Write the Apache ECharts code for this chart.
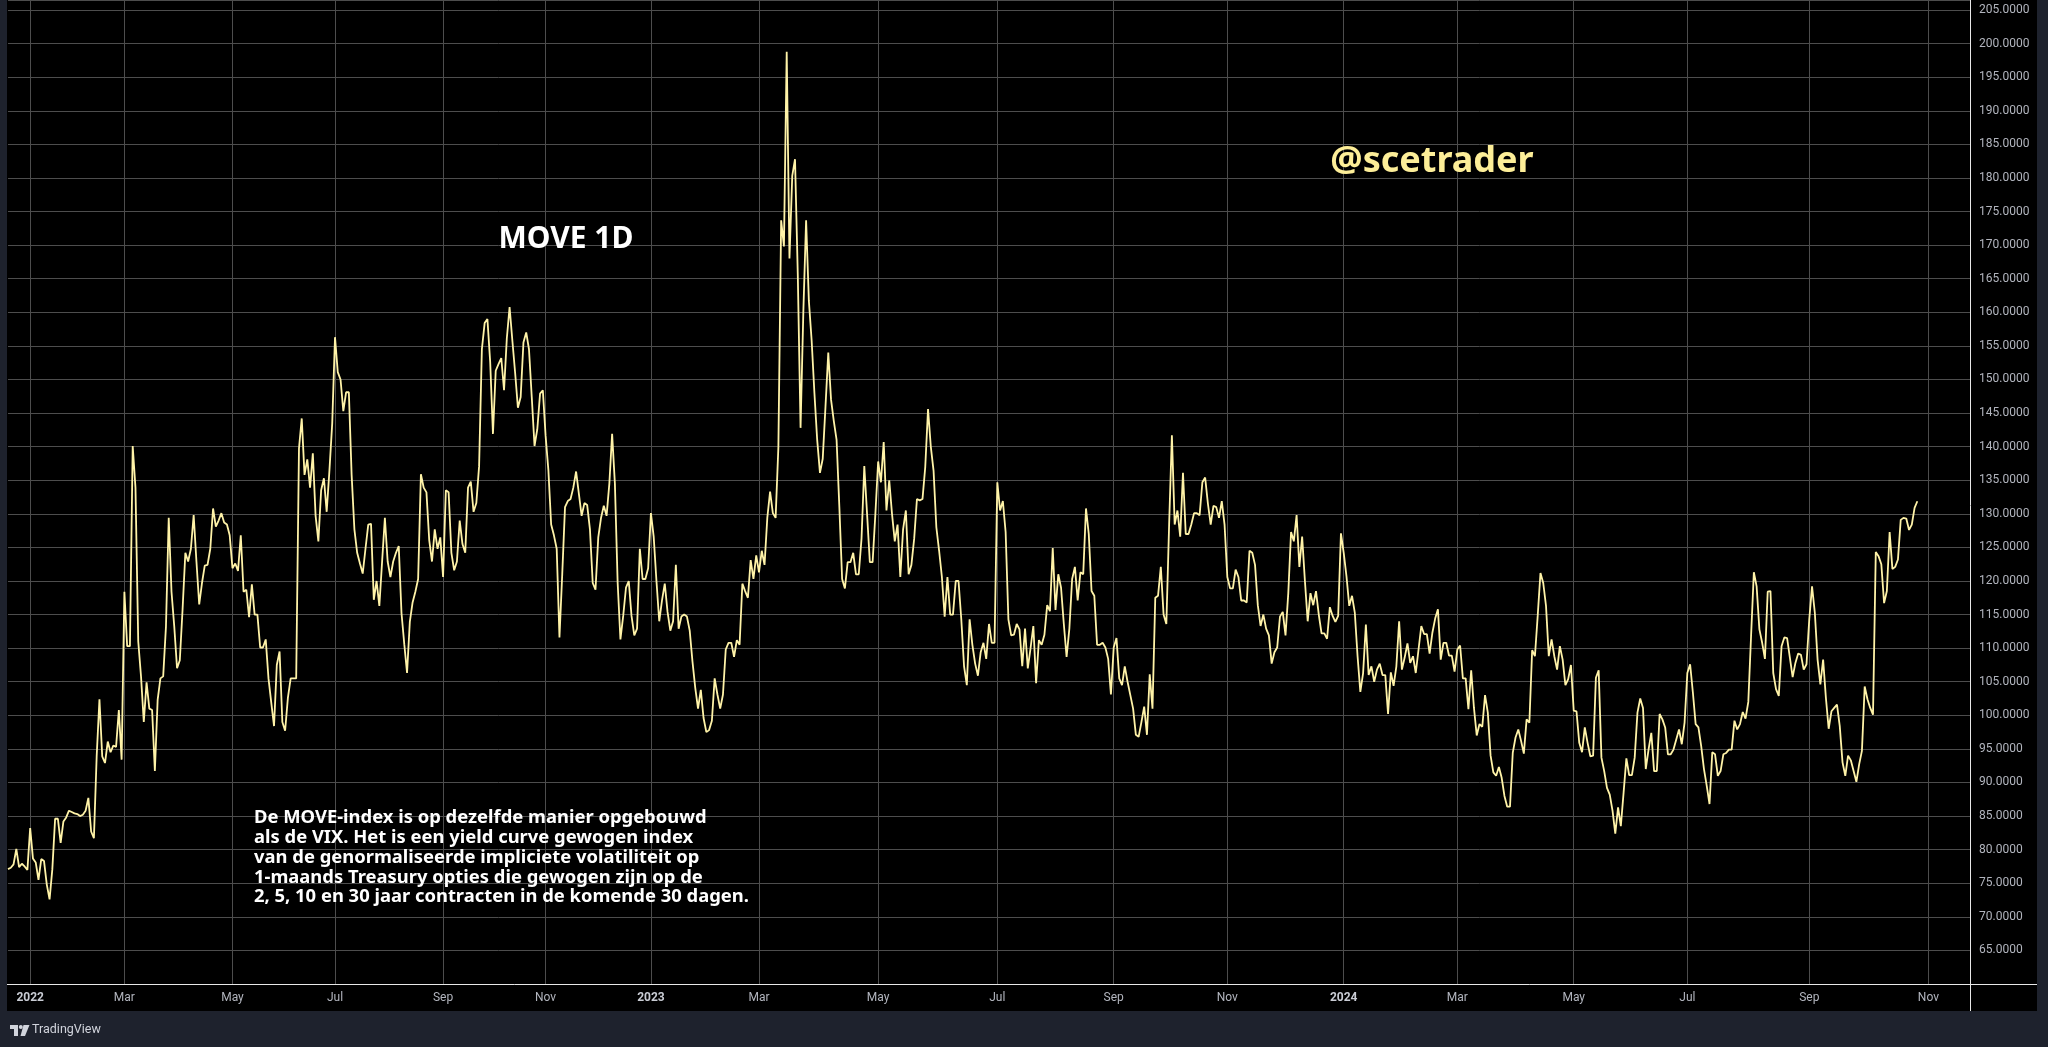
<!DOCTYPE html>
<html>
<head>
<meta charset="utf-8">
<script src="https://cdn.jsdelivr.net/npm/echarts@6/dist/echarts.min.js"></script>
<style>
html,body{margin:0;padding:0;background:#1e222d;}
#chart{width:2048px;height:1047px;}
</style>
</head>
<body>
<div id="chart"></div>
<script>
// MOVE index, one value per bar slot
const move2022 = [
77.1,77.3,77.8,80.1,77.4,77.9,77.5,77.0,83.2,78.7,
78.1,75.5,78.6,78.3,74.8,72.6,77.1,84.6,84.6,81.0,
84.2,84.8,85.8,85.6,85.4,85.3,85.0,85.2,85.8,87.7,
82.7,81.7,93.9,102.4,93.9,92.9,96.1,94.5,95.5,95.3,
100.8,93.4,118.4,110.3,110.3,140.1,133.9,111.0,105.8,99.0,
104.9,101.0,100.8,91.7,102.3,105.5,105.8,113.2,129.4,118.4,
113.2,107.0,108.2,115.8,124.2,122.9,124.8,129.8,122.9,116.5,
119.7,122.3,122.4,124.8,130.8,128.1,129.0,130.1,128.7,128.4,
126.8,121.9,122.6,121.5,126.8,118.4,118.7,114.6,119.5,115.0,
115.0,110.1,110.1,111.3,105.5,101.9,98.4,107.5,109.5,99.0,
97.7,102.6,105.5,105.5,105.5,139.7,144.2,135.8,138.1,133.9,
139.0,129.7,125.9,133.5,135.3,130.3,136.5,143.5,156.3,151.1,
150.0,145.3,148.1,148.1,135.8,127.7,124.2,122.6,121.1,124.8,
128.4,128.5,117.2,120.0,116.3,122.9,129.4,122.9,120.6,122.9,
124.2,125.2,115.2,110.6,106.3,113.9,116.8,118.4,120.3,135.9,
133.9,133.2,126.1,122.9,127.7,124.8,126.5,120.6,133.5,133.2,
124.2,121.6,122.9,129.0,125.5,124.2,133.9,134.8,130.3,131.6,
137.1,154.5,158.4,159.0,152.6,141.9,151.3,152.3,153.2,148.4,
156.1,160.8,155.8,151.0,145.8,147.4,155.5,157.0,154.5,147.4,
140.1,142.6,147.9,148.4,141.6,136.5,128.4,126.8,124.8,111.6,
121.0,131.0,131.9,132.2,133.9,136.3,133.0,129.7,131.6,131.3,
127.7,119.7,118.7,126.5,129.4,131.2,129.7,134.5,141.9,134.5,
119.7,111.3,114.8,119.0,120.0,114.8,111.9,112.9,124.8,120.3,
120.3,121.9
];
const move2023 = [
130.1,126.6,120.0,114.0,117.1,119.6,115.4,112.6,114.0,122.4,
112.9,114.7,115.0,114.7,112.6,108.0,104.1,101.0,103.8,99.6,
97.5,97.8,99.2,105.5,103.1,101.0,103.1,109.8,110.8,110.8,
108.7,111.2,110.5,119.6,118.5,117.5,123.1,120.3,123.8,121.3,
124.5,122.4,129.4,133.3,130.1,129.4,140.0,173.7,169.8,198.8,
168.0,180.3,182.8,165.6,142.8,160.0,173.7,161.7,155.8,148.0,
141.0,136.1,138.2,146.0,154.0,147.0,143.8,141.0,131.0,120.3,
118.9,122.8,122.8,124.2,121.0,121.0,126.3,137.1,130.0,122.8,
122.8,130.0,137.8,134.7,140.7,130.5,135.0,130.0,125.9,128.4,
120.6,127.7,130.5,121.0,122.4,126.3,132.2,132.0,132.2,137.0,
145.6,140.0,136.4,128.0,124.5,120.6,114.7,120.6,115.0,115.0,
120.0,120.0,114.3,107.3,104.5,114.3,110.5,107.7,105.9,109.4,
110.8,108.4,113.6,110.8,110.8,134.7,130.5,131.9,127.3,114.3,
111.9,112.0,113.6,112.8,107.3,112.9,107.0,110.0,113.3,104.8,
111.2,110.5,112.0,116.4,115.5,124.9,115.7,121.0,119.0,113.6,
108.7,112.9,120.3,122.1,117.1,121.3,121.0,130.8,127.0,118.5,
117.8,110.5,110.5,110.8,110.1,108.4,103.1,110.1,111.5,105.5,
104.5,107.3,105.0,103.0,101.0,97.1,96.8,99.0,101.3,97.1,
106.1,101.0,117.5,117.8,122.1,115.0,113.6,128.4,141.7,128.4,
130.5,126.6,136.1,127.0,127.0,128.4,130.1,130.1,129.8,134.7,
135.4,131.5,128.4,131.2,131.0,129.4,131.9,128.4,120.6,118.9,
118.9,121.7,120.6,117.1,117.1,116.8,124.5,124.2,122.4,116.4,
113.3,115.0,112.9,111.9,107.7,109.4,110.1,114.7,115.4,111.9,
118.2,127.3,125.9,129.8,122.1,126.6,120.0,114.0,118.2,116.4,
118.5,115.0,112.2,112.2,111.4,116.1,114.8,113.9,114.8,127.1
];
const move2024 = [
124.2,120.7,116.3,117.8,115.3,108.8,103.5,106.3,113.5,106.0,
107.3,105.0,106.8,107.7,106.0,106.0,100.2,106.4,104.4,107.3,
114.0,106.8,108.6,110.7,107.8,108.8,106.3,109.8,113.3,112.1,
112.1,109.2,112.3,114.4,115.8,108.3,110.8,110.8,108.9,108.9,
106.5,109.8,110.4,105.5,105.5,100.9,106.7,101.1,97.0,98.7,
98.3,103.0,100.4,94.0,91.5,91.0,92.3,90.7,88.0,86.4,
86.4,94.4,96.7,97.9,96.2,94.3,99.4,98.9,109.7,108.8,
114.8,121.2,119.7,116.3,108.8,111.3,108.8,106.8,110.3,108.3,
104.5,105.4,107.5,100.7,100.6,95.9,94.5,98.2,95.9,93.9,
94.0,105.6,106.7,93.7,91.7,89.2,88.2,85.8,82.4,86.3,
83.5,88.5,93.6,91.1,91.1,93.7,100.4,102.5,101.1,92.0,
94.9,97.4,91.7,91.7,100.2,99.4,98.2,94.2,94.2,94.9,
96.4,97.9,95.7,98.9,106.3,107.6,103.4,98.7,98.2,95.4,
92.0,89.5,86.8,94.5,94.2,91.0,91.7,94.2,94.4,94.9,
94.9,99.2,97.9,98.7,100.5,99.5,102.0,111.8,121.3,119.2,
112.8,110.8,108.4,118.4,118.5,106.3,103.9,102.9,110.3,111.6,
111.5,108.6,105.7,107.8,109.2,109.0,106.8,107.6,114.3,119.2,
115.3,108.3,104.6,108.3,102.6,98.0,100.6,101.1,101.6,98.4,
93.0,91.0,94.0,93.3,91.7,90.1,92.7,94.7,104.3,102.4,
101.1,100.1,124.3,123.7,122.5,116.7,118.5,127.3,121.8,122.1,
123.2,129.1,129.4,129.3,127.6,128.4,130.9,131.872
];

// x-axis tick labels and the bar slot each one sits on
const tickLabels = ['2022','Mar','May','Jul','Sep','Nov','2023','Mar','May','Jul','Sep','Nov','2024','Mar','May','Jul','Sep','Nov'];
const tickBars   = [8, 42, 81, 118, 157, 194, 232, 271, 314, 357, 399, 440, 482, 523, 565, 606, 650, 693];
const yearLabels = ['2022','2023','2024'];
const totalSlots = 709;   // bar slots across the plot, incl. empty space on the right

const noteLines = [
  'De MOVE-index is op dezelfde manier opgebouwd',
  'als de VIX. Het is een yield curve gewogen index',
  'van de genormaliseerde impliciete volatiliteit op',
  '1-maands Treasury opties die gewogen zijn op de',
  '2, 5, 10 en 30 jaar contracten in de komende 30 dagen.'
];

const moveValues = [...move2022, ...move2023, ...move2024];
const categories = [];
for (let i = 0; i < totalSlots; i++) categories.push(String(i));
const tickMap = new Map();
tickBars.forEach((b, k) => tickMap.set(b, tickLabels[k]));
const lastValue = moveValues[moveValues.length - 1];

const GRID = '#4d4d4d';
const AXIS_TXT = '#b2b5be';
const LINE = '#fff3a8';

const chart = echarts.init(document.getElementById('chart'));
chart.setOption({
  backgroundColor: '#1e222d',
  animation: false,
  grid: { left: 8, right: 78, top: 0, bottom: 63, containLabel: false },
  xAxis: {
    type: 'category',
    data: categories,
    boundaryGap: false,
    axisLine: { show: false },
    axisTick: { show: false },
    axisLabel: {
      interval: (i) => tickMap.has(i),
      formatter: (v, i) => {
        const t = tickMap.get(Number(v));
        if (!t) return '';
        return yearLabels.includes(t) ? '{y|' + t + '}' : t;
      },
      color: AXIS_TXT,
      fontSize: 12,
      fontFamily: 'Roboto, sans-serif',
      margin: 8,
      rich: { y: { fontWeight: 'bold', color: '#c9ccd4', fontSize: 12, fontFamily: 'Roboto, sans-serif' } }
    },
    splitLine: { show: true, interval: (i) => tickMap.has(i), lineStyle: { color: GRID, width: 1 } }
  },
  yAxis: {
    type: 'value',
    position: 'right',
    min: 60,
    max: 206.5,
    interval: 5,
    axisLine: { show: false },
    axisTick: { show: false },
    axisLabel: {
      formatter: (v) => (v >= 65 && Math.abs(v % 5) < 1e-6) ? v.toFixed(4) : '',
      color: AXIS_TXT,
      fontSize: 12,
      fontFamily: 'Roboto, sans-serif',
      margin: 9,
      showMaxLabel: false
    },
    splitLine: { show: true, lineStyle: { color: GRID, width: 1 } }
  },
  series: [{
    type: 'line',
    data: moveValues,
    showSymbol: false,
    symbol: 'none',
    lineStyle: { color: LINE, width: 1.8 },
    silent: true,
    markLine: {
      silent: true,
      symbol: 'none',
      lineStyle: { opacity: 0 },
      data: [{ yAxis: lastValue }],
      label: {
        show: true,
        position: 'end',
        distance: 1,
        formatter: () => lastValue.toFixed(4),
        backgroundColor: '#fff5a5',
        color: '#131722',
        fontSize: 12,
        fontFamily: 'Roboto, sans-serif',
        lineHeight: 12,
        padding: [3, 5, 2, 8]
      }
    }
  }],
  graphic: [
    { type: 'rect', z: -100, silent: true, shape: { x: 7, y: 0, width: 2030, height: 1011 }, style: { fill: '#000000' } },
    { type: 'line', z: 100, silent: true, shape: { x1: 1970.5, y1: 0, x2: 1970.5, y2: 1011 }, style: { stroke: '#e8e8e8', lineWidth: 1 } },
    { type: 'line', z: 100, silent: true, shape: { x1: 7, y1: 984.5, x2: 2037, y2: 984.5 }, style: { stroke: '#e8e8e8', lineWidth: 1 } },
    { type: 'text', z: 100, silent: true, x: 566, y: 239,
      style: { text: 'MOVE 1D', fill: '#ffffff', font: 'bold 30px "Noto Sans", sans-serif', textAlign: 'center', textVerticalAlign: 'middle' } },
    { type: 'text', z: 100, silent: true, x: 1432, y: 162,
      style: { text: '@scetrader', fill: '#fdee98', font: 'bold 36px "Noto Sans", sans-serif', textAlign: 'center', textVerticalAlign: 'middle' } },
    { type: 'text', z: 100, silent: true, x: 254, y: 808,
      style: { text: noteLines.join('\n'), fill: '#ffffff', font: 'bold 18.4px "Noto Sans", sans-serif', lineHeight: 19.8, textAlign: 'left', textVerticalAlign: 'top' } },
    // TradingView logo
    { type: 'polygon', z: 100, silent: true, shape: { points: [[10,1025],[18,1025],[18,1036],[14,1036],[14,1029],[10,1029]] }, style: { fill: '#d1d4dc' } },
    { type: 'circle', z: 100, silent: true, shape: { cx: 20.8, cy: 1027, r: 2 }, style: { fill: '#d1d4dc' } },
    { type: 'polygon', z: 100, silent: true, shape: { points: [[23.5,1025],[29.5,1025],[25,1036],[20.5,1036]] }, style: { fill: '#d1d4dc' } },
    { type: 'text', z: 100, silent: true, x: 32, y: 1030,
      style: { text: 'TradingView', fill: '#d1d4dc', font: '12.5px Roboto, sans-serif', textAlign: 'left', textVerticalAlign: 'middle' } }
  ]
});
</script>
</body>
</html>
